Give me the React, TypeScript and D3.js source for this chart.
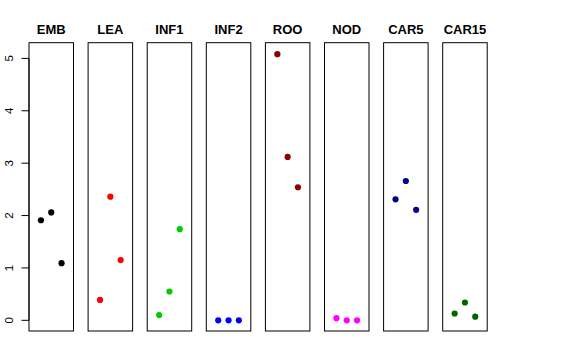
import React from "react";
import * as d3 from "d3";

const categories = ["EMB", "LEA", "INF1", "INF2", "ROO", "NOD", "CAR5", "CAR15"];
const colors = ["#000000", "#FF0000", "#00CD00", "#0000FF", "#8B0000", "#FF00FF", "#000080", "#006400"];
const valuesEMB = [1.91, 2.06, 1.09];
const valuesLEA = [0.39, 2.36, 1.15];
const valuesINF1 = [0.1, 0.55, 1.74];
const valuesINF2 = [0.0, 0.0, 0.0];
const valuesROO = [5.08, 3.12, 2.54];
const valuesNOD = [0.04, 0.0, 0.0];
const valuesCAR5 = [2.31, 2.66, 2.11];
const valuesCAR15 = [0.13, 0.34, 0.07];
const series = [valuesEMB, valuesLEA, valuesINF1, valuesINF2, valuesROO, valuesNOD, valuesCAR5, valuesCAR15];
const yTicks = [0, 1, 2, 3, 4, 5];

const W = 576;
const H = 360;

export default function App() {
  const panelX = d3.scaleBand<string>().domain(categories).range([29 - 7.3, 29 - 7.3 + 59.1 * 8]).paddingInner(0);
  const panelW = 44.5;
  const offset = 7.3;
  const y = d3.scaleLinear().domain([-0.204, 5.3]).range([331, 42.7]);
  const top = y(5.3);
  const bottom = y(-0.204);
  const axisX = (panelX("EMB") as number) + offset;

  return (
    <div style={{ position: "absolute", left: 0, top: 0 }}>
      <svg width={W} height={H} style={{ display: "block", fontFamily: "'Liberation Sans', Arial, sans-serif" }}>
        <rect width={W} height={H} fill="white" />
        {/* y axis */}
        <line x1={axisX} x2={axisX} y1={y(0)} y2={y(5)} stroke="#000" strokeWidth={1} />
        {yTicks.map((t) => (
          <g key={t}>
            <line x1={axisX - 7.5} x2={axisX} y1={y(t)} y2={y(t)} stroke="#000" strokeWidth={1} />
            <text
              transform={`translate(${axisX - 16.5},${y(t)}) rotate(-90)`}
              textAnchor="middle"
              fontSize={11.5}
              fill="#000"
            >
              {t}
            </text>
          </g>
        ))}
        {categories.map((c, i) => {
          const left = (panelX(c) as number) + offset;
          const x = d3.scaleLinear().domain([-0.16, 4.16]).range([left, left + panelW]);
          return (
            <g key={c}>
              <rect x={left} y={top} width={panelW} height={bottom - top} fill="none" stroke="#000" strokeWidth={1} />
              <text x={left + panelW / 2} y={34} textAnchor="middle" fontSize={13} fontWeight="bold" fill="#000">
                {c}
              </text>
              {series[i].map((v, j) => (
                <circle key={j} cx={x(j + 1)} cy={y(v)} r={3.1} fill={colors[i]} />
              ))}
            </g>
          );
        })}
      </svg>
    </div>
  );
}
